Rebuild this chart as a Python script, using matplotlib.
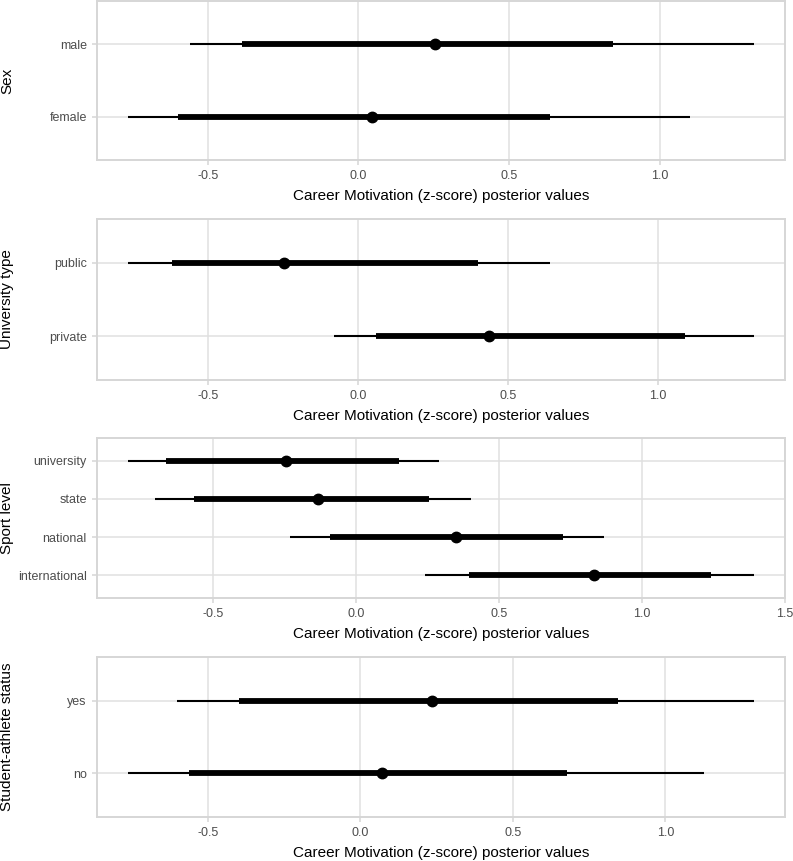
import numpy as np
import matplotlib.pyplot as plt

plt.rcParams['font.family'] = ['Liberation Sans', 'DejaVu Sans']

# bottom-to-top order within each panel
sex_levels = ['female', 'male']
sex_lo95 = [-0.765, -0.558]
sex_lo66 = [-0.599, -0.387]
sex_mid = [0.045, 0.255]
sex_hi66 = [0.634, 0.845]
sex_hi95 = [1.100, 1.311]

uni_levels = ['private', 'public']
uni_lo95 = [-0.081, -0.767]
uni_lo66 = [0.061, -0.620]
uni_mid = [0.437, -0.247]
uni_hi66 = [1.091, 0.402]
uni_hi95 = [1.320, 0.642]

sport_levels = ['international', 'national', 'state', 'university']
sport_lo95 = [0.239, -0.230, -0.705, -0.799]
sport_lo66 = [0.396, -0.093, -0.569, -0.667]
sport_mid = [0.832, 0.350, -0.132, -0.247]
sport_hi66 = [1.241, 0.725, 0.256, 0.149]
sport_hi95 = [1.390, 0.867, 0.400, 0.291]

sa_levels = ['no', 'yes']
sa_lo95 = [-0.763, -0.602]
sa_lo66 = [-0.563, -0.397]
sa_mid = [0.071, 0.235]
sa_hi66 = [0.678, 0.844]
sa_hi95 = [1.126, 1.290]

panels = [
    ('Sex', sex_levels, sex_lo95, sex_lo66, sex_mid, sex_hi66, sex_hi95, [-0.5, 0.0, 0.5, 1.0]),
    ('University type', uni_levels, uni_lo95, uni_lo66, uni_mid, uni_hi66, uni_hi95, [-0.5, 0.0, 0.5, 1.0]),
    ('Sport level', sport_levels, sport_lo95, sport_lo66, sport_mid, sport_hi66, sport_hi95, [-0.5, 0.0, 0.5, 1.0, 1.5]),
    ('Student-athlete status', sa_levels, sa_lo95, sa_lo66, sa_mid, sa_hi66, sa_hi95, [-0.5, 0.0, 0.5, 1.0]),
]

W, H = 793, 861
fig = plt.figure(figsize=(W / 100, H / 100), dpi=100)

left_px, right_px = 96.5, 785
rows_px = [(1, 160), (219, 380), (438, 598), (657, 817)]

for (ylab, levels, lo95, lo66, mid, hi66, hi95, xticks), (top, bot) in zip(panels, rows_px):
    ax = fig.add_axes([left_px / W, 1 - bot / H, (right_px - left_px) / W, (bot - top) / H])
    y = np.arange(1, len(levels) + 1)

    ax.hlines(y, lo95, hi95, color='black', linewidth=1.5, zorder=3)
    ax.hlines(y, lo66, hi66, color='black', linewidth=4.2, zorder=4)
    ax.plot(mid, y, 'o', color='black', markersize=7.5, zorder=5)

    lo_all = min(lo95)
    hi_all = max(hi95)
    pad = 0.05 * (hi_all - lo_all)
    ax.set_xlim(lo_all - pad, hi_all + pad)
    ax.set_ylim(0.4, len(levels) + 0.6)

    ax.set_yticks(y)
    ax.set_yticklabels(levels)
    ax.set_xticks(xticks)
    ax.set_xticklabels([f'{t:.1f}' for t in xticks])

    ax.grid(True, color='#E0E0E0', linewidth=1.1, zorder=0)
    ax.set_axisbelow(True)
    for s in ax.spines.values():
        s.set_color('#D6D6D6')
        s.set_linewidth(1.4)
    ax.tick_params(colors='#D6D6D6', labelcolor='#4D4D4D', labelsize=9, length=3.5, width=1.1)

    ax.set_xlabel('Career Motivation (z-score) posterior values', fontsize=11, color='black', labelpad=5)
    ax.set_ylabel(ylab, fontsize=11, color='black')
    ax.yaxis.set_label_coords((14 - left_px) / (right_px - left_px), 0.5)

fig.savefig('out.png', dpi=100, facecolor='white')
